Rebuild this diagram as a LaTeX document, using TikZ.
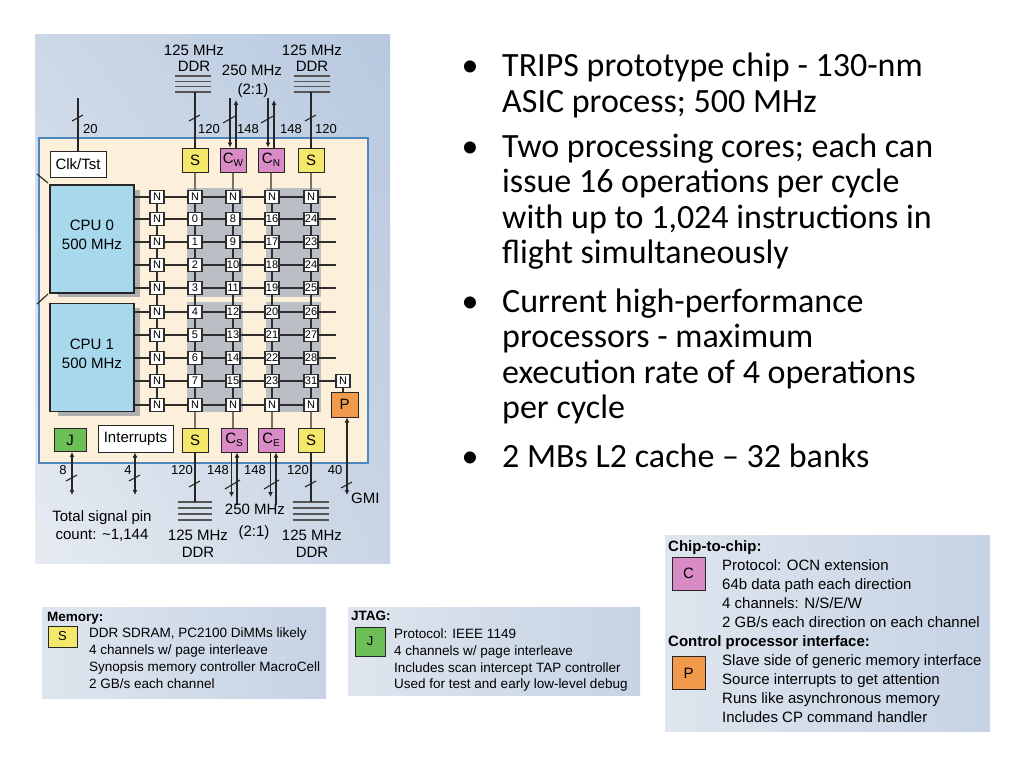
\documentclass[tikz,border=0pt]{standalone}
\usepackage{fontspec}
\setmainfont{Liberation Sans}
\newfontfamily\slidefont{Carlito}
\usetikzlibrary{arrows.meta,calc,shadings}
\newcommand{\myfs}[1]{\fontsize{#1}{#1}\selectfont}
\definecolor{panUL}{HTML}{CCD8E8}
\definecolor{panUR}{HTML}{B8C9DF}
\definecolor{panLL}{HTML}{E6EBF1}
\definecolor{panLR}{HTML}{C9D5E5}
\definecolor{legL}{HTML}{DEE5EE}
\definecolor{legR}{HTML}{C6D3E5}
\definecolor{chipfill}{HTML}{FDF0DA}
\definecolor{chipline}{HTML}{4F86BD}
\definecolor{cpufill}{HTML}{A7D8EC}
\definecolor{sfill}{HTML}{F3E86A}
\definecolor{cfill}{HTML}{D98BC5}
\definecolor{pfill}{HTML}{F29A4C}
\definecolor{jfill}{HTML}{6DBE57}
\definecolor{band}{HTML}{BABEC5}
\definecolor{shadowc}{HTML}{AEAEAE}
\definecolor{wirec}{HTML}{2E2E2E}
\definecolor{vwirec}{HTML}{7D6F62}
\definecolor{ddrc}{HTML}{555555}
\tikzset{
  gbox/.style={draw=wirec, line width=1.4pt, fill=white, minimum width=14pt, minimum height=13.5pt, inner sep=0pt, font=\myfs{11}},
  iobox/.style={draw=black!85, line width=1pt, minimum width=26pt, minimum height=24pt, inner sep=0pt, font=\myfs{15}},
  sbox/.style={iobox, fill=sfill},
  cbox/.style={iobox, fill=cfill},
  cpubox/.style={draw=black!85, line width=1.2pt, fill=cpufill, minimum width=84pt, minimum height=108pt, inner sep=0pt},
  wbox/.style={draw=black!85, line width=1pt, fill=white, inner sep=0pt, font=\myfs{15}},
  wire/.style={draw=wirec, line width=1.3pt},
  vwire/.style={draw=vwirec, line width=1.3pt},
  bus/.style={draw=black!85, line width=1.1pt},
  arr/.style={bus, -{Latex[length=5pt,width=5pt]}},
  darr/.style={bus, {Latex[length=5pt,width=5pt]}-{Latex[length=5pt,width=5pt]}},
  ddr/.style={draw=ddrc, line width=1.3pt},
  lbl/.style={font=\myfs{13}, inner sep=0pt},
  big/.style={font=\myfs{15}, inner sep=0pt},
  legtxt/.style={font=\myfs{13.5}, anchor=base west, inner sep=0pt},
  leghead/.style={font=\bfseries\myfs{13.5}, anchor=base west, inner sep=0pt},
  legtxtb/.style={font=\myfs{15}, anchor=base west, inner sep=0pt},
  legheadb/.style={font=\bfseries\myfs{15}, anchor=base west, inner sep=0pt},
  slide/.style={font=\slidefont\myfs{34}, anchor=base west, inner sep=0pt},
  bullet/.style={font=\slidefont\myfs{34}, anchor=base, inner sep=0pt}
}
\begin{document}
\begin{tikzpicture}[x=1pt,y=-1pt]
\useasboundingbox (0,0) rectangle (1024,768);
\fill[white] (0,0) rectangle (1024,768);
% ---------- chip panel ----------
\shade[upper left=panUL, upper right=panUR, lower left=panLL, lower right=panLR] (35,35) rectangle (390,563);
\draw[chipline, line width=1.3pt, fill=chipfill] (39,138) rectangle (368,463);
% grey bands
\fill[band] (187,188) rectangle (243,297);
\fill[band] (187,302) rectangle (243,412);
\fill[band] (266,188) rectangle (321,297);
\fill[band] (266,302) rectangle (321,412);
% cpu shadows
\fill[shadowc] (58,190) rectangle (140,297);
\fill[shadowc] (58,308) rectangle (140,416);
% edge ticks
\draw[bus] (37,174) -- (48,183);
\draw[bus] (37,304) -- (48,294);
% CPU boxes
\node[cpubox] (cpu0) at (92,239) {};
\node[cpubox] (cpu1) at (92,357.5) {};
\node[big, align=center, font=\fontsize{15}{19}\selectfont] at ($(cpu0)+(0,-4.5)$) {CPU 0\\500 MHz};
\node[big, align=center, font=\fontsize{15}{19}\selectfont] at ($(cpu1)+(0,-4)$) {CPU 1\\500 MHz};
% grid nodes
\foreach \i/\y/\t in {0/197/N,1/219/N,2/242/N,3/265/N,4/288/N,5/312/N,6/335/N,7/358/N,8/381/N,9/405/N}
  \node[gbox] (g0-\i) at (157,\y) {\t};
\foreach \i/\y/\t in {0/197/N,1/219/0,2/242/1,3/265/2,4/288/3,5/312/4,6/335/5,7/358/6,8/381/7,9/405/N}
  \node[gbox] (g1-\i) at (195,\y) {\t};
\foreach \i/\y/\t in {0/197/N,1/219/8,2/242/9,3/265/10,4/288/11,5/312/12,6/335/13,7/358/14,8/381/15,9/405/N}
  \node[gbox] (g2-\i) at (233,\y) {\t};
\foreach \i/\y/\t in {0/197/N,1/219/16,2/242/17,3/265/18,4/288/19,5/312/20,6/335/21,7/358/22,8/381/23,9/405/N}
  \node[gbox] (g3-\i) at (272,\y) {\t};
\foreach \i/\y/\t in {0/197/N,1/219/24,2/242/23,3/265/24,4/288/25,5/312/26,6/335/27,7/358/28,8/381/31,9/405/N}
  \node[gbox] (g4-\i) at (311,\y) {\t};
\foreach \i/\y in {0/197,1/219,2/242,3/265,4/288,5/312,6/335,7/358}
  \coordinate (e\i) at (336,\y);
% P and its N
\node[gbox] (nP) at (343,381) {N};
\node[iobox, fill=pfill, minimum width=27pt, minimum height=25pt] (P) at (344.5,404.5) {P};
% horizontal wires
\foreach \i in {0,...,4} \draw[wire] (cpu0.east |- g0-\i) -- (g0-\i);
\foreach \i in {5,...,9} \draw[wire] (cpu1.east |- g0-\i) -- (g0-\i);
\foreach \i in {0,...,9} \draw[wire] (g0-\i) -- (g1-\i) -- (g2-\i) -- (g3-\i) -- (g4-\i);
\foreach \i in {0,...,7} \draw[wire] (g4-\i) -- (e\i);
\draw[wire] (g4-8) -- (nP);
\draw[wire] (nP) -- (nP |- P.north);
% vertical wires
\foreach \j in {0,...,4}
  \foreach \i/\k in {0/1,1/2,2/3,3/4,4/5,5/6,6/7,7/8,8/9}
    \draw[wire] (g\j-\i) -- (g\j-\k);
% top interface boxes
\node[sbox] (s1) at (195,160) {S};
\node[cbox] (cw) at (233,160) {C\raisebox{-3pt}{\myfs{10}W}};
\node[cbox] (cn) at (271,160) {C\raisebox{-3pt}{\myfs{10}N}};
\node[sbox] (s2) at (311,160) {S};
\draw[vwire] (s1) -- (g1-0);
\draw[vwire] (cw) -- (cw |- g2-0.north);
\draw[vwire] (cn) -- (cn |- g3-0.north);
\draw[vwire] (s2) -- (g4-0);
% bottom interface boxes
\node[iobox, fill=jfill, minimum width=32pt, minimum height=23pt] (jb) at (70,440) {J};
\node[wbox, minimum width=75pt, minimum height=27pt] (intr) at (135.5,438.5) {Interrupts};
\node[sbox] (s3) at (195,440) {S};
\node[cbox] (cs) at (234,440) {C\raisebox{-3pt}{\myfs{10}S}};
\node[cbox] (ce) at (271,440) {C\raisebox{-3pt}{\myfs{10}E}};
\node[sbox] (s4) at (311,440) {S};
\draw[vwire] (g1-9) -- (s3);
\draw[vwire] (g2-9.south) -- (g2-9.south |- cs.north);
\draw[vwire] (g3-9.south) -- (g3-9.south |- ce.north);
\draw[vwire] (g4-9) -- (s4);
% Clk/Tst
\node[wbox, minimum width=56pt, minimum height=26pt] (clk) at (78,164) {Clk/Tst};
\coordinate (clktop) at (78,98);
\draw[bus] (clktop) -- (clk);
\draw[bus] (72,121) -- (83,115);
\node[lbl, anchor=west] at (83,129) {20};
% top DDR symbols
\foreach \yy in {76,81.3,86.6,92} {\draw[ddr] (175,\yy) -- (211,\yy); \draw[ddr] (294,\yy) -- (330,\yy);}
\coordinate (d1) at (195,92);
\coordinate (d2) at (311,92);
\draw[bus] (d1) -- (s1);
\draw[bus] (d2) -- (s2);
\draw[bus] (189,121) -- (200,115);
\draw[bus] (305,121) -- (316,115);
\node[lbl, anchor=west] at (198,129) {120};
\node[lbl, anchor=west] at (315,129) {120};
\node[big] at (194,50.5) {125 MHz};
\node[big] at (194,66.5) {DDR};
\node[big] at (312,50.5) {125 MHz};
\node[big] at (312,66.5) {DDR};
\node[big] at (252,70) {250 MHz};
\node[big] at (253,91) {(2:1)};
% top C buses
\coordinate (cwin) at (230,98);
\coordinate (cwout) at (236,100);
\coordinate (cnin) at (268,98);
\coordinate (cnout) at (274,100);
\draw[arr] (cwin) -- (cwin |- cw.north);
\draw[arr] (cwout |- cw.north) -- (cwout);
\draw[arr] (cnin) -- (cnin |- cn.north);
\draw[arr] (cnout |- cn.north) -- (cnout);
\draw[bus] (223,123) -- (237,115);
\draw[bus] (261,123) -- (275,115);
\node[lbl, anchor=west] at (237,129) {148};
\node[lbl, anchor=west] at (280,129) {148};
% bottom J / Interrupts
\coordinate (jend) at (72,495);
\coordinate (iend) at (135,495);
\draw[darr] (jb.south -| jend) -- (jend);
\draw[darr] (intr.south -| iend) -- (iend);
\draw[bus] (66,481) -- (77,475);
\draw[bus] (129,481) -- (140,475);
\node[lbl] at (63,470) {8};
\node[lbl] at (128,470) {4};
% bottom DDR
\foreach \yy in {502,508,514,520} {\draw[ddr] (178,\yy) -- (212,\yy); \draw[ddr] (293,\yy) -- (329,\yy);}
\coordinate (d3) at (195,502);
\coordinate (d4) at (311,502);
\draw[bus] (s3) -- (d3);
\draw[bus] (s4) -- (d4);
\draw[bus] (189,487) -- (200,481);
\draw[bus] (305,487) -- (316,481);
\node[lbl] at (182,470) {120};
\node[lbl] at (298,470) {120};
% bottom C buses
\coordinate (csout) at (231.5,497);
\coordinate (csin) at (237,505);
\coordinate (ceout) at (270.5,497);
\coordinate (cein) at (276,505);
\draw[arr] (csout |- cs.south) -- (csout);
\draw[arr] (csin) -- (csin |- cs.south);
\draw[arr] (ceout |- ce.south) -- (ceout);
\draw[arr] (cein) -- (cein |- ce.south);
\draw[bus] (225,489) -- (240,480);
\draw[bus] (264,489) -- (279,480);
\node[lbl] at (218,470) {148};
\node[lbl] at (255,470) {148};
% GMI
\coordinate (gmi) at (347,495);
\draw[darr] (P.south -| gmi) -- (gmi);
\draw[bus] (341,488) -- (352,482);
\node[lbl] at (335,470) {40};
\node[big, anchor=west] at (351,498) {GMI};
% bottom labels
\node[big] at (255,509) {250 MHz};
\node[big] at (254,533) {(2:1)};
\node[big] at (198,535) {125 MHz};
\node[big] at (198,552) {DDR};
\node[big] at (312,535) {125 MHz};
\node[big] at (312,552) {DDR};
\node[big] at (102,518) {Total signal pin};
\node[big] at (102,535) {count: \textasciitilde1,144};
% ---------- bullets ----------
\foreach \y in {77,157,312,467} \node[bullet] at (470,\y) {•};
\node[slide] (b1a) at (502,77) {TRIPS prototype chip - 130-nm};
\node[slide] (b1b) at (502,112) {ASIC process; 500 MHz};
\node[slide] (b2a) at (502,157) {Two processing cores; each can};
\node[slide] (b2b) at (502,192) {issue 16 operations per cycle};
\node[slide] (b2c) at (502,228) {with up to 1,024 instructions in};
\node[slide] (b2d) at (502,263) {flight simultaneously};
\node[slide] (b3a) at (502,312) {Current high-performance};
\node[slide] (b3b) at (502,347) {processors - maximum};
\node[slide] (b3c) at (502,383) {execution rate of 4 operations};
\node[slide] (b3d) at (502,418) {per cycle};
\node[slide] (b4a) at (502,467) {2 MBs L2 cache – 32 banks};
% ---------- Memory legend ----------
\shade[left color=legL, right color=legR] (42,607) rectangle (326,698);
\node[leghead] at (47,621) {Memory:};
\node[sbox, minimum width=29pt, minimum height=21pt, font=\myfs{13}] (ls) at (62.5,636.5) {S};
\node[legtxt] at (89,637) {DDR SDRAM, PC2100 DiMMs likely};
\node[legtxt] at (89,654) {4 channels w/ page interleave};
\node[legtxt] at (89,671) {Synopsis memory controller MacroCell};
\node[legtxt] at (89,688) {2 GB/s each channel};
% ---------- JTAG legend ----------
\shade[left color=legL, right color=legR] (348,607) rectangle (640,695);
\node[leghead] at (351,620) {JTAG:};
\node[iobox, fill=jfill, minimum width=30pt, minimum height=29pt, font=\myfs{13}] (lj) at (370,641.5) {J};
\node[legtxt] at (394,638) {Protocol: IEEE 1149};
\node[legtxt] at (394,655) {4 channels w/ page interleave};
\node[legtxt] at (394,672) {Includes scan intercept TAP controller};
\node[legtxt] at (394,688) {Used for test and early low-level debug};
% ---------- Chip-to-chip legend ----------
\shade[left color=legL, right color=legR] (665,535) rectangle (990,731);
\node[legheadb] at (668,551) {Chip-to-chip:};
\node[cbox, minimum width=33pt, minimum height=33pt] (lc) at (688.5,573.5) {C};
\node[legtxtb] at (722,570) {Protocol: OCN extension};
\node[legtxtb] at (722,589) {64b data path each direction};
\node[legtxtb] at (722,608) {4 channels: N/S/E/W};
\node[legtxtb] at (722,627) {2 GB/s each direction on each channel};
\node[legheadb] at (668,646) {Control processor interface:};
\node[iobox, fill=pfill, minimum width=33pt, minimum height=33pt] (lp) at (688.5,673) {P};
\node[legtxtb] at (722,665) {Slave side of generic memory interface};
\node[legtxtb] at (722,684) {Source interrupts to get attention};
\node[legtxtb] at (722,703) {Runs like asynchronous memory};
\node[legtxtb] at (722,722) {Includes CP command handler};
\end{tikzpicture}
\end{document}
